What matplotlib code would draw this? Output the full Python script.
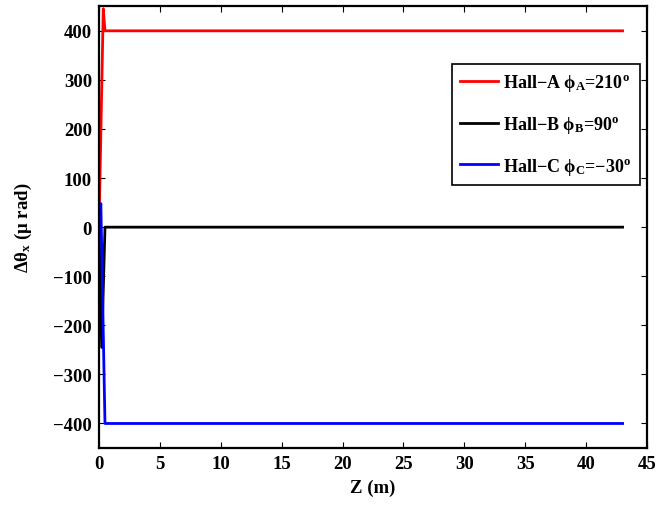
import matplotlib
matplotlib.use("Agg")
import matplotlib.pyplot as plt

plt.rcParams['font.family'] = ['Liberation Serif', 'DejaVu Serif']
plt.rcParams['font.weight'] = 'bold'
plt.rcParams['mathtext.fontset'] = 'custom'
plt.rcParams['mathtext.rm'] = 'Liberation Serif:bold'
plt.rcParams['mathtext.it'] = 'Liberation Serif:bold'
plt.rcParams['mathtext.bf'] = 'Liberation Serif:bold'

# ------------------------------------------------------------------
# Data
# ------------------------------------------------------------------
z_a = [0.0, 0.35, 0.49, 43.0]
dth_a = [0.0, 445.0, 400.0, 400.0]

z_b = [0.0, 0.22, 0.49, 43.0]
dth_b = [0.0, -245.0, 0.0, 0.0]

z_c = [0.0, 0.15, 0.49, 43.0]
dth_c = [0.0, 48.0, -400.0, -400.0]

labels = [r'Hall$-$A ϕ$_{A}$=210$^{o}$',
          r'Hall$-$B ϕ$_{B}$=90$^{o}$',
          r'Hall$-$C ϕ$_{C}$=$-$30$^{o}$']

xticks = list(range(0, 50, 5))
yticks = list(range(-400, 500, 100))

# ------------------------------------------------------------------
# Plot
# ------------------------------------------------------------------
fig = plt.figure(figsize=(6.69, 5.06), dpi=100)
ax = fig.add_axes([0.148, 0.1126, 0.819, 0.873])

ax.plot(z_a, dth_a, color='#ff0000', lw=2, label=labels[0])
ax.plot(z_b, dth_b, color='#000000', lw=2, label=labels[1])
ax.plot(z_c, dth_c, color='#0000ff', lw=2, label=labels[2])

ax.set_xlim(0, 45)
ax.set_ylim(-450, 450)
ax.set_xticks(xticks)
ax.set_yticks(yticks)
ax.set_yticklabels([str(v).replace('-', '\u2212') for v in yticks])
ax.tick_params(direction='in', top=True, right=True, labelsize=13.5, length=4, pad=5)
for s in ax.spines.values():
    s.set_linewidth(1.6)

ax.set_xlabel('Z (m)', fontsize=13.5, fontweight='bold', labelpad=5)
ax.set_ylabel(r'Δθ$_{x}$ (μ rad)', fontsize=13.5, fontweight='bold', labelpad=14)

leg = ax.legend(loc='upper right', bbox_to_anchor=(0.987, 0.869), borderaxespad=0,
                fancybox=False, framealpha=1, edgecolor='black', fontsize=13,
                handlelength=2.1, handletextpad=0.3, labelspacing=1.15, borderpad=0.45)
leg.get_frame().set_linewidth(1.2)

fig.savefig('out.png', dpi=100)
